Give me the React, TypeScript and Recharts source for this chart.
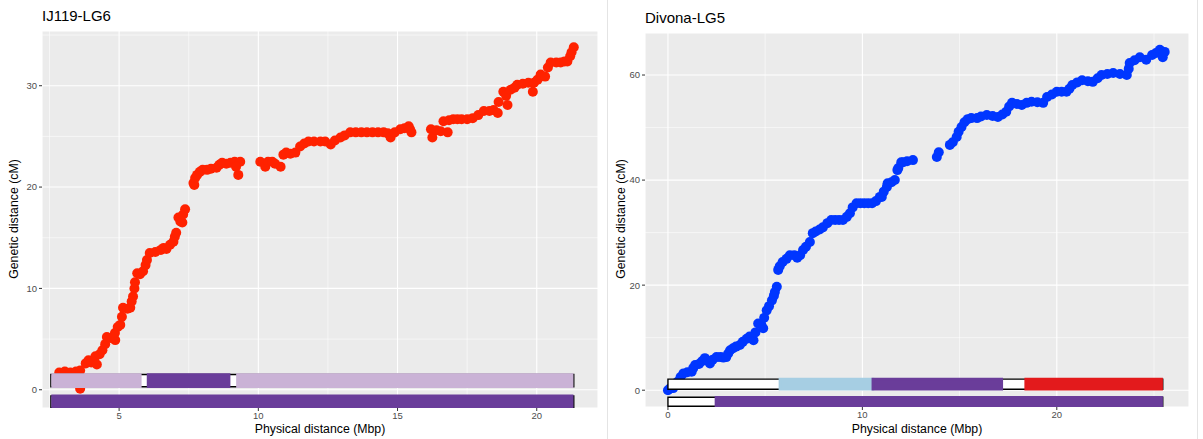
import { ScatterChart, Scatter, XAxis, YAxis, CartesianGrid, ReferenceArea, ReferenceLine } from 'recharts';

// IJ119-LG6: physical position (Mbp) and genetic position (cM)
const ij119Mbp = [
  2.85, 3.05, 3.25, 3.45, 3.6, 3.6, 3.8, 3.9, 4.0, 4.15, 4.2, 4.3, 4.4, 4.5, 4.56, 4.7, 4.86, 4.85, 4.95, 5.04,
  5.1, 5.14, 5.3, 5.4, 5.45, 5.5, 5.55, 5.57, 5.65, 5.75, 5.86, 5.95, 6.0, 6.1, 6.3, 6.5, 6.6, 6.7, 6.83, 6.95,
  7.0, 7.05, 7.13, 7.2, 7.27, 7.3, 7.37, 7.67, 7.7, 7.73, 7.8, 7.9, 8.0, 8.16, 8.3, 8.5, 8.6, 8.7, 8.85, 9.0,
  9.15, 9.35, 9.28, 9.2, 10.07, 10.25, 10.35, 10.5, 10.6, 10.8, 10.9, 11.0, 11.15, 11.33, 11.5, 11.65, 11.8, 12.0, 12.23, 12.4,
  12.6, 12.75, 12.95, 13.1, 13.3, 13.5, 13.7, 13.9, 14.1, 14.3, 14.5, 14.65, 14.75, 14.9, 15.1, 15.25, 15.4, 15.5, 15.45, 16.2,
  16.25, 16.4, 16.55, 16.65, 16.8, 16.85, 17.0, 17.15, 17.3, 17.5, 17.7, 17.9, 18.1, 18.3, 18.45, 18.6, 18.63, 18.8, 18.95, 18.9,
  19.06, 19.2, 19.3, 19.5, 19.7, 19.86, 19.9, 20.03, 20.14, 20.3, 20.4, 20.5, 20.7, 20.86, 21.0, 21.1, 21.2, 21.25, 21.33,
];
const ij119CM = [
  1.7, 1.8, 1.7, 1.8, 1.9, 0.1, 2.6, 2.9, 2.7, 3.3, 2.5, 3.5, 3.9, 4.5, 5.2, 5.1, 4.9, 5.6, 6.2, 6.4,
  7.2, 8.1, 8.0, 8.1, 8.7, 9.2, 10.0, 10.6, 11.5, 11.4, 11.7, 12.3, 12.8, 13.5, 13.6, 13.8, 14.0, 13.9, 14.3, 14.6,
  15.1, 15.5, 17.0, 16.6, 16.5, 17.3, 17.8, 20.4, 20.2, 20.9, 21.2, 21.5, 21.7, 21.7, 21.8, 21.9, 22.2, 22.4, 22.3, 22.4,
  22.5, 22.5, 21.2, 22.0, 22.5, 22.0, 22.5, 22.5, 22.3, 22.0, 23.2, 23.4, 23.3, 23.4, 24.0, 24.3, 24.5, 24.5, 24.5, 24.5,
  24.2, 24.6, 24.9, 25.1, 25.4, 25.4, 25.4, 25.4, 25.4, 25.4, 25.4, 25.3, 24.9, 25.4, 25.7, 25.8, 26.0, 25.4, 25.7, 25.7,
  24.9, 25.6, 25.5, 26.5, 25.4, 26.6, 26.7, 26.7, 26.7, 26.7, 26.8, 27.1, 27.5, 27.5, 27.6, 27.3, 28.4, 29.4, 28.1, 29.0,
  29.6, 29.8, 30.1, 30.2, 30.3, 29.4, 30.3, 30.6, 31.1, 30.9, 31.8, 32.3, 32.3, 32.3, 32.4, 32.4, 32.9, 33.3, 33.8,
];

// Divona-LG5
const divonaMbp = [
  0, 0.1, 0.27, 0.4, 0.5, 0.65, 0.8, 1.0, 1.22, 1.3, 1.4, 1.6, 1.75, 1.9, 2.05, 2.16, 2.3, 2.5, 2.7, 2.85,
  3.0, 3.1, 3.2, 3.35, 3.5, 3.7, 3.85, 4.05, 4.2, 4.4, 4.5, 4.64, 4.8, 4.9, 4.95, 5.08, 5.2, 5.35, 5.45, 5.5,
  5.6, 5.67, 5.75, 5.9, 6.1, 6.27, 6.5, 6.65, 6.8, 6.95, 7.1, 7.3, 7.45, 7.6, 7.8, 7.97, 8.2, 8.4, 8.6, 8.8,
  9.0, 9.2, 9.36, 9.5, 9.7, 9.9, 10.1, 10.3, 10.5, 10.7, 10.9, 11.0, 11.1, 11.26, 11.3, 11.5, 11.67, 11.8, 11.85, 12.0,
  12.1, 12.3, 12.6, 13.83, 13.93, 14.5, 14.65, 14.85, 14.95, 15.1, 15.25, 15.42, 15.6, 15.9, 16.1, 16.4, 16.7, 16.97, 17.2, 17.4,
  17.55, 17.7, 17.95, 18.2, 18.45, 18.7, 19.0, 19.3, 19.5, 19.75, 20.0, 20.25, 20.5, 20.65, 20.8, 21.05, 21.3, 21.6, 21.85, 22.1,
  22.3, 22.6, 22.9, 23.25, 23.6, 23.7, 23.75, 24.0, 24.27, 24.6, 24.9, 25.1, 25.3, 25.45, 25.55,
];
const divonaCM = [
  0, 0.3, 0.4, 1.0, 1.6, 2.5, 3.2, 3.4, 3.5, 4.2, 4.8, 5.0, 5.5, 6.1, 5.6, 5.1, 5.8, 6.3, 6.3, 6.2,
  6.3, 7.0, 7.6, 8.0, 8.3, 8.6, 9.2, 9.8, 10.2, 9.5, 11.0, 12.7, 12.5, 11.8, 13.8, 15.2, 16.0, 17.1, 18.0, 18.7,
  19.7, 22.9, 23.6, 24.4, 25.0, 25.7, 25.7, 25.2, 25.7, 26.7, 27.3, 28.2, 29.9, 30.2, 30.6, 31.0, 31.8, 32.4, 32.4, 32.4,
  32.4, 33.0, 33.7, 34.8, 35.6, 35.6, 35.6, 35.6, 35.6, 36.0, 36.8, 36.8, 37.8, 38.7, 39.4, 39.6, 40.0, 41.9, 42.3, 43.4,
  43.4, 43.6, 43.8, 44.4, 45.3, 46.7, 47.2, 48.2, 49.2, 50.1, 51.0, 51.6, 51.8, 51.8, 52.1, 52.4, 52.2, 52.0, 52.5, 53.0,
  54.0, 54.7, 54.5, 54.3, 54.7, 54.9, 54.8, 54.7, 55.8, 56.3, 56.8, 56.8, 56.8, 57.4, 58.1, 58.6, 59.0, 58.8, 58.7, 59.4,
  60.0, 60.2, 60.4, 60.2, 60.0, 61.2, 62.3, 62.8, 63.4, 62.9, 63.8, 64.2, 64.8, 63.4, 64.4,
];

// chromosome annotation tracks: segment start, end and class
const ij119TrackTopStart = [2.55, 5.76, 6.04, 8.95, 9.25];
const ij119TrackTopEnd = [5.76, 6.04, 8.95, 9.25, 21.33];
const ij119TrackTopClass = ['light', 'none', 'dark', 'none', 'light'];
const ij119TrackBottomStart = [2.55];
const ij119TrackBottomEnd = [21.33];
const ij119TrackBottomClass = ['dark'];

const divonaTrackTopStart = [0, 5.76, 10.54, 17.17, 18.4];
const divonaTrackTopEnd = [5.76, 10.54, 17.17, 18.4, 25.45];
const divonaTrackTopClass = ['none', 'blue', 'dark', 'none', 'red'];
const divonaTrackBottomStart = [0, 2.47];
const divonaTrackBottomEnd = [2.47, 25.45];
const divonaTrackBottomClass = ['none', 'dark'];

const trackColors: Record<string, string> = {
  light: '#cab2d6',
  dark: '#6a3d9a',
  blue: '#a6cee3',
  red: '#e31a1c',
  none: '#ffffff',
};

const zip = (xs: number[], ys: number[]) => xs.map((x, i) => ({ x, y: ys[i] }));
const segs = (s: number[], e: number[], c: string[]) => s.map((v, i) => ({ start: v, end: e[i], cls: c[i] }));

const FONT = '"Liberation Sans", Arial, Helvetica, sans-serif';

interface Track {
  y1: number;
  y2: number;
  segments: { start: number; end: number; cls: string }[];
}

interface PanelProps {
  left: number;
  width: number;
  height: number;
  margin: { top: number; right: number; bottom: number; left: number };
  yAxisWidth: number;
  title: string;
  data: { x: number; y: number }[];
  color: string;
  xDomain: [number, number];
  yDomain: [number, number];
  xTicks: number[];
  yTicks: number[];
  xMinor: number[];
  yMinor: number[];
  tracks: Track[];
}

const Panel = (p: PanelProps) => {
  const plotLeft = p.margin.left + p.yAxisWidth;
  const plotRight = p.width - p.margin.right;
  const plotTop = p.margin.top;
  const plotBottom = p.height - p.margin.bottom - 20;
  const tickStyle = { fontSize: 9.5, fill: '#4d4d4d', fontFamily: FONT };

  return (
    <div style={{ position: 'absolute', left: p.left, top: 0, width: p.width, height: p.height }}>
      <div style={{ position: 'absolute', left: plotLeft, top: plotTop - 24, fontSize: 15, fontFamily: FONT, color: '#000' }}>
        {p.title}
      </div>
      <div
        style={{
          position: 'absolute',
          left: 14 - 100,
          top: (plotTop + plotBottom) / 2 - 8,
          width: 200,
          textAlign: 'center',
          transform: 'rotate(-90deg)',
          fontSize: 12.3,
          fontFamily: FONT,
          color: '#000',
        }}
      >
        Genetic distance (cM)
      </div>
      <div
        style={{
          position: 'absolute',
          left: plotLeft,
          width: plotRight - plotLeft,
          top: p.height - 17,
          textAlign: 'center',
          fontSize: 12.3,
          fontFamily: FONT,
          color: '#000',
        }}
      >
        Physical distance (Mbp)
      </div>
      <ScatterChart width={p.width} height={p.height} margin={p.margin}>
        <CartesianGrid fill="#ebebeb" stroke="#ffffff" strokeWidth={1.1} />
        <XAxis
          dataKey="x"
          type="number"
          domain={p.xDomain}
          ticks={p.xTicks}
          allowDataOverflow
          height={20}
          axisLine={false}
          tickSize={3}
          tickLine={{ stroke: '#333333' }}
          tick={tickStyle}
          tickMargin={1}
        />
        <YAxis
          dataKey="y"
          type="number"
          domain={p.yDomain}
          ticks={p.yTicks}
          allowDataOverflow
          width={p.yAxisWidth}
          axisLine={false}
          tickSize={3}
          tickLine={{ stroke: '#333333' }}
          tick={tickStyle}
          tickMargin={2}
        />
        {p.xMinor.map((v) => (
          <ReferenceLine key={'vx' + v} x={v} stroke="#ffffff" strokeWidth={0.55} />
        ))}
        {p.yMinor.map((v) => (
          <ReferenceLine key={'hy' + v} y={v} stroke="#ffffff" strokeWidth={0.55} />
        ))}
        <Scatter
          data={p.data}
          isAnimationActive={false}
          shape={(s: any) => <circle cx={s.cx} cy={s.cy} r={5} fill={p.color} />}
        />
        {p.tracks.map((t, ti) => [
          <ReferenceArea
            key={'bg' + ti}
            x1={t.segments[0].start}
            x2={t.segments[t.segments.length - 1].end}
            y1={t.y1}
            y2={t.y2}
            fill="#ffffff"
            fillOpacity={1}
            stroke="#000000"
            strokeWidth={1.4}
            ifOverflow="hidden"
            zIndex={700}
          />,
          ...t.segments
            .filter((s) => s.cls !== 'none')
            .map((s, si) => (
              <ReferenceArea
                key={'seg' + ti + '-' + si}
                x1={s.start + (s.start === t.segments[0].start ? 0.06 : 0)}
                x2={s.end - (s.end === t.segments[t.segments.length - 1].end ? 0.06 : 0)}
                y1={t.y1}
                y2={t.y2}
                fill={trackColors[s.cls]}
                fillOpacity={1}
                stroke={trackColors[s.cls]}
                strokeWidth={2.6}
                ifOverflow="hidden"
                zIndex={700}
              />
            )),
        ])}
      </ScatterChart>
    </div>
  );
};

const App = () => {
  return (
    <div style={{ position: 'absolute', left: 0, top: 0, width: 1203, height: 439, background: '#ffffff', overflow: 'hidden' }}>
      <Panel
        left={0}
        width={607}
        height={439}
        margin={{ top: 31, right: 9, bottom: 11, left: 12 }}
        yAxisWidth={30}
        title="IJ119-LG6"
        data={zip(ij119Mbp, ij119CM)}
        color="#ff2200"
        xDomain={[2.23, 22.2]}
        yDomain={[-1.8, 35.4]}
        xTicks={[5, 10, 15, 20]}
        yTicks={[0, 10, 20, 30]}
        xMinor={[2.5, 7.5, 12.5, 17.5]}
        yMinor={[5, 15, 25, 35]}
        tracks={[
          { y1: 0.3, y2: 1.5, segments: segs(ij119TrackTopStart, ij119TrackTopEnd, ij119TrackTopClass) },
          { y1: -1.78, y2: -0.6, segments: segs(ij119TrackBottomStart, ij119TrackBottomEnd, ij119TrackBottomClass) },
        ]}
      />
      <div style={{ position: 'absolute', left: 607, top: 0, width: 1, height: 439, background: '#e4e4e4' }} />
      <div style={{ position: 'absolute', left: 1197, top: 0, width: 1, height: 439, background: '#e4e4e4' }} />
      <Panel
        left={607}
        width={596}
        height={439}
        margin={{ top: 33, right: 14, bottom: 12, left: 12 }}
        yAxisWidth={26}
        title="Divona-LG5"
        data={zip(divonaMbp, divonaCM)}
        color="#0036ff"
        xDomain={[-1.18, 26.8]}
        yDomain={[-3.2, 68]}
        xTicks={[0, 10, 20]}
        yTicks={[0, 20, 40, 60]}
        xMinor={[5, 15, 25]}
        yMinor={[10, 30, 50]}
        tracks={[
          { y1: 0.19, y2: 2.1, segments: segs(divonaTrackTopStart, divonaTrackTopEnd, divonaTrackTopClass) },
          { y1: -3.05, y2: -1.33, segments: segs(divonaTrackBottomStart, divonaTrackBottomEnd, divonaTrackBottomClass) },
        ]}
      />
    </div>
  );
};

export default App;
